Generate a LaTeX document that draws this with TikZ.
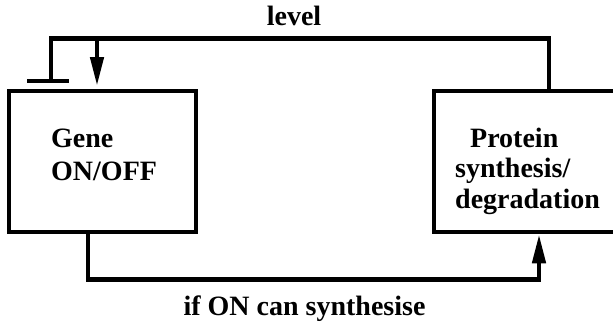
\documentclass[tikz,border=0pt]{standalone}
\usepackage{fontspec}
\setmainfont{Liberation Serif}
\usetikzlibrary{arrows.meta}
\tikzset{
  wire/.style={line width=4.5pt, line join=miter},
  boxnode/.style={draw, line width=4.5pt, inner sep=0pt},
  lbl/.style={inner sep=0pt, font=\fontsize{28}{33}\selectfont\bfseries},
  tip/.style={-{Triangle[length=29pt, width=13pt]}},
}
\begin{document}
\begin{tikzpicture}[x=1pt, y=-1pt]
  \useasboundingbox (0,0) rectangle (613,325);
  \clip (0,0) rectangle (613,325);

  % the two process boxes (the right one runs off the page edge)
  \node[boxnode, minimum width=187pt, minimum height=141pt] (gene) at (102.5,161.5) {};
  \node[boxnode, minimum width=190pt, minimum height=141pt] (prot) at (529,161.5) {};

  % box texts
  \node[lbl, anchor=base west] (g1) at (51,147) {Gene};
  \node[lbl, anchor=base west] (g2) at (51,180) {ON/OFF};
  \node[lbl, anchor=base west] (p1) at (470,147) {Protein};
  \node[lbl, anchor=base west] (p2) at (455,177.5) {synthesis/};
  \node[lbl, anchor=base west] (p3) at (455,208) {degradation};

  % connector labels
  \node[lbl, anchor=base] (lev) at (294,25) {level};
  \node[lbl, anchor=base] (syn) at (304.5,315) {if ON can synthesise};

  % routing points of the feedback loop
  \coordinate (topR) at (549,38.5);
  \coordinate (topL) at (51,38.5);
  \coordinate (inh) at (51,81);
  \coordinate (barL) at (27,81);
  \coordinate (barR) at (69,81);
  \coordinate (actTop) at (97,38.5);
  \coordinate (actTip) at (97,86);
  \coordinate (botL) at (88,279.5);
  \coordinate (botR) at (539,279.5);

  % level feedback: from protein box back to the gene box
  \draw[wire] (prot.north -| topR) -- (topR) -- (topL) -- (inh);
  \draw[wire] (barL) -- (barR);
  \draw[wire, tip] (actTop) -- (actTip);

  % synthesis path: from gene box to protein box
  \draw[wire, tip] (gene.south -| botL) -- (botL) -- (botR) -- (prot.south -| botR);
\end{tikzpicture}
\end{document}
